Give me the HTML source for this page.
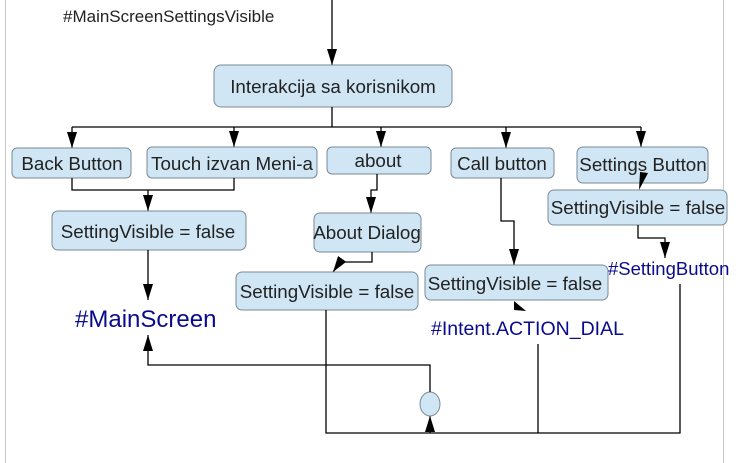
<!DOCTYPE html>
<html><head><meta charset="utf-8"><style>
body{margin:0;background:#fff}
svg{display:block}
text{font-family:"Liberation Sans",sans-serif}
.b{fill:#d0e6f4;stroke:#7a8a96;stroke-width:1}
.t{font-size:18.8px;fill:#222}
.l{fill:none;stroke:#000;stroke-width:1.3}
.n{fill:#0a0a8c}
</style></head><body>
<svg width="748" height="463" viewBox="0 0 748 463">
<defs>
<marker id="r" markerWidth="16" markerHeight="10" refX="16" refY="5" orient="auto" markerUnits="userSpaceOnUse" viewBox="0 0 16 10"><path d="M0,0 L16,5 L0,10 z" fill="#000"/></marker></defs>
<line x1="5.5" y1="0" x2="5.5" y2="463" stroke="#c8c8c8"/>
<line x1="723.5" y1="0" x2="723.5" y2="463" stroke="#c8c8c8"/>
<text x="63" y="22" font-size="17" fill="#222">#MainScreenSettingsVisible</text>
<path class="l" d="M332,0 V65" marker-end="url(#r)"/>
<rect class="b" x="214" y="65" width="238" height="42" rx="7"/>
<text class="t" x="333" y="93" text-anchor="middle">Interakcija sa korisnikom</text>
<path class="l" d="M332,107 V127 M72,127 H641"/>
<path class="l" d="M72,127 V148" marker-end="url(#r)"/>
<path class="l" d="M234,127 V147" marker-end="url(#r)"/>
<path class="l" d="M381,127 V147" marker-end="url(#r)"/>
<path class="l" d="M506,127 V148" marker-end="url(#r)"/>
<path class="l" d="M641,127 V147" marker-end="url(#r)"/>
<rect class="b" x="12" y="148" width="119" height="30" rx="5"/><text class="t" x="72" y="170" text-anchor="middle">Back Button</text>
<rect class="b" x="147" y="147" width="170" height="31" rx="5"/><text class="t" x="232" y="170" text-anchor="middle">Touch izvan Meni-a</text>
<rect class="b" x="327" y="147" width="104" height="27" rx="5"/><text class="t" x="378" y="167" text-anchor="middle">about</text>
<rect class="b" x="451" y="148" width="103" height="30" rx="5"/><text class="t" x="502" y="170" text-anchor="middle">Call button</text>
<rect class="b" x="577" y="147" width="131" height="36" rx="6"/><text class="t" x="643" y="171" text-anchor="middle">Settings Button</text>
<path class="l" d="M72,178 V190 H234 V178 M148,190 V211" marker-end="url(#r)"/>
<rect class="b" x="52" y="211" width="194" height="39" rx="6"/><text class="t" x="148" y="238" text-anchor="middle">SettingVisible = false</text>
<path class="l" d="M148,250 V300" marker-end="url(#r)"/>
<text x="75" y="327" font-size="24" class="n">#MainScreen</text>
<path class="l" d="M377,174 V190 H371 V213" marker-end="url(#r)"/>
<rect class="b" x="314" y="213" width="107" height="39" rx="6"/><text class="t" x="367" y="239" text-anchor="middle">About Dialog</text>
<path class="l" d="M372,252 V262 H340 L333,272" marker-end="url(#r)"/>
<rect class="b" x="236" y="272" width="182" height="38" rx="6"/><text class="t" x="327" y="298" text-anchor="middle">SettingVisible = false</text>
<path class="l" d="M501,178 V221 H514 V265" marker-end="url(#r)"/>
<rect class="b" x="425" y="265" width="183" height="35" rx="6"/><text class="t" x="515" y="290" text-anchor="middle">SettingVisible = false</text>
<path d="M514,301 L526,311 L514,310 z" fill="#000"/>
<text x="431" y="335" font-size="19.5" class="n">#Intent.ACTION_DIAL</text>
<path d="M640,172 L648,173 L639,190 z" fill="#000"/>
<rect class="b" x="548" y="190" width="179" height="35" rx="6"/><text class="t" x="638" y="214" text-anchor="middle">SettingVisible = false</text>
<path class="l" d="M638,225 V238 H665 V258" marker-end="url(#r)"/>
<text x="608" y="275" font-size="18.5" class="n">#SettingButton</text>
<path class="l" d="M326,310 V433 H680 V284 M538,344 V433"/>
<path class="l" d="M430,433 V416" marker-end="url(#r)"/>
<ellipse cx="430" cy="404" rx="10" ry="12" class="b"/>
<path class="l" d="M430,392 V365 H148 V335" marker-end="url(#r)"/>
</svg>
</body></html>
